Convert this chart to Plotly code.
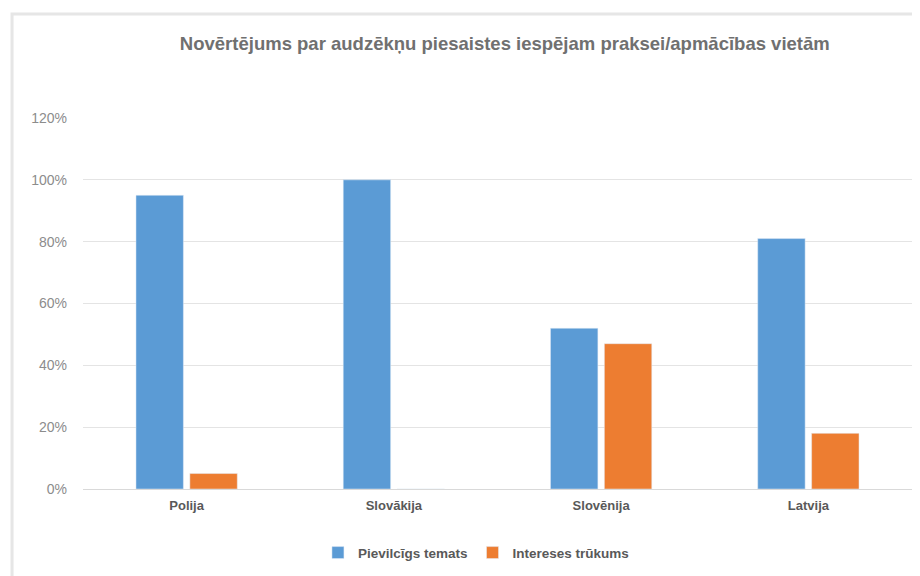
import plotly.graph_objects as go

countries = ["Polija", "Slovākija", "Slovēnija", "Latvija"]
pievilcigs = [0.95, 1.00, 0.52, 0.81]
intereses = [0.05, 0.0, 0.47, 0.18]
y_ticks = [0, 0.2, 0.4, 0.6, 0.8, 1.0, 1.2]

fig = go.Figure()
fig.add_trace(
    go.Bar(x=countries, y=pievilcigs, name="<b>Pievilcīgs temats</b>", marker_color="#5b9bd5")
)
fig.add_trace(
    go.Bar(x=countries, y=intereses, name="<b>Intereses trūkums</b>", marker_color="#ed7d31")
)

fig.update_layout(
    width=920,
    height=576,
    margin=dict(l=75, r=16, t=110, b=95),
    paper_bgcolor="white",
    plot_bgcolor="white",
    font=dict(family="Liberation Sans, Arial, sans-serif", color="#595959"),
    title=dict(
        text="<b>Novērtējums par audzēkņu piesaistes iespējam praksei/apmācības vietām</b>",
        x=0.540,
        xanchor="center",
        y=0.9375,
        yanchor="middle",
        font=dict(size=18.5, color="#707070"),
    ),
    bargap=0.48,
    bargroupgap=0.12,
    legend=dict(
        orientation="h",
        x=0.474,
        xanchor="center",
        y=-0.172,
        yanchor="middle",
        font=dict(size=13.5, color="#595959"),
        itemwidth=30,
        traceorder="normal",
    ),
    shapes=[
        dict(
            type="rect",
            xref="paper",
            yref="paper",
            x0=-0.0856,
            x1=1.1,
            y0=-0.3,
            y1=1.28,
            line=dict(color="#e6e6e6", width=3),
            layer="below",
        )
    ],
)

fig.update_xaxes(
    showgrid=False,
    showline=True,
    linecolor="#d9d9d9",
    linewidth=1,
    tickfont=dict(size=13, color="#595959"),
    ticklabelstandoff=4,
    tickprefix="<b>",
    ticksuffix="</b>",
)
fig.update_yaxes(
    range=[0, 1.2],
    tickvals=y_ticks,
    tickformat=".0%",
    showgrid=True,
    gridcolor="#e4e4e4",
    gridwidth=1,
    zeroline=False,
    tickfont=dict(size=14, color="#8c8c8c"),
    ticklabelstandoff=15,
)

fig.write_html("out.html")
